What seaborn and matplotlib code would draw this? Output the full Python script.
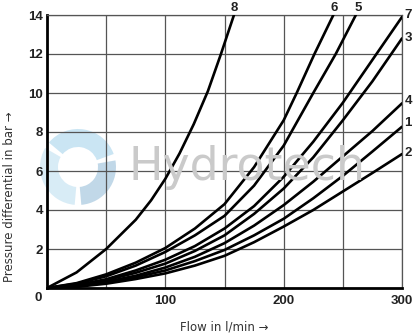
import matplotlib
matplotlib.use("Agg")
import matplotlib.pyplot as plt
from matplotlib.patches import Wedge
import seaborn as sns
import pandas as pd

# ---- data (flow l/min, pressure bar) ----
curve_names = ["1", "2", "3", "4", "5", "6", "7", "8"]

flow_1 = [0, 25, 50, 75, 100, 125, 150, 175, 200, 225, 250, 275, 300]
dp_1 = [0, 0.08, 0.27, 0.55, 0.9, 1.38, 1.95, 2.7, 3.55, 4.6, 5.75, 7.0, 8.27]

flow_2 = [0, 25, 50, 75, 100, 125, 150, 175, 200, 225, 250, 275, 300]
dp_2 = [0, 0.06, 0.22, 0.46, 0.75, 1.15, 1.65, 2.35, 3.15, 4.0, 4.95, 5.9, 6.87]

flow_3 = [0, 25, 50, 75, 100, 125, 150, 175, 200, 225, 250, 275, 300]
dp_3 = [0, 0.13, 0.4, 0.78, 1.25, 1.9, 2.7, 3.8, 5.1, 6.7, 8.6, 10.6, 12.8]

flow_4 = [0, 25, 50, 75, 100, 125, 150, 175, 200, 225, 250, 275, 300]
dp_4 = [0, 0.1, 0.32, 0.63, 1.05, 1.6, 2.3, 3.2, 4.25, 5.45, 6.75, 8.05, 9.47]

flow_5 = [0, 25, 50, 75, 100, 125, 150, 175, 200, 225, 244, 261]
dp_5 = [0, 0.22, 0.6, 1.15, 1.85, 2.7, 3.7, 5.25, 7.3, 10.0, 12.0, 14.0]

flow_6 = [0, 25, 50, 75, 100, 125, 150, 175, 200, 211, 226, 242]
dp_6 = [0, 0.25, 0.7, 1.3, 2.05, 3.05, 4.3, 6.2, 8.6, 10.0, 12.0, 14.0]

flow_7 = [0, 25, 50, 75, 100, 125, 150, 175, 200, 225, 250, 275, 300]
dp_7 = [0, 0.15, 0.45, 0.9, 1.45, 2.15, 3.05, 4.2, 5.7, 7.5, 9.5, 11.7, 13.9]

flow_8 = [0, 25, 50, 75, 88, 100, 112, 124, 136, 147, 158]
dp_8 = [0, 0.8, 2.0, 3.5, 4.5, 5.6, 6.9, 8.4, 10.1, 12.0, 14.0]

x_ticks = [100, 200, 300]
y_ticks = [2, 4, 6, 8, 10, 12, 14]

label_pos = {  # curve label anchor (flow, pressure)
    "8": (158, 14.38), "6": (243, 14.38), "5": (263, 14.38),
    "7": (302, 14.0), "3": (302, 12.8), "4": (302, 9.6),
    "1": (302, 8.45), "2": (302, 6.9),
}

flows = [flow_1, flow_2, flow_3, flow_4, flow_5, flow_6, flow_7, flow_8]
dps = [dp_1, dp_2, dp_3, dp_4, dp_5, dp_6, dp_7, dp_8]
rows = []
for name, fx, fy in zip(curve_names, flows, dps):
    for a, b in zip(fx, fy):
        rows.append({"curve": name, "flow": a, "dp": b})
df = pd.DataFrame(rows)

sns.set_theme(style="white")
plt.rcParams["font.family"] = ["Liberation Sans", "DejaVu Sans"]

W, H = 415, 335
fig = plt.figure(figsize=(W / 100, H / 100), dpi=100)
ax = fig.add_axes([47 / W, 1 - 288 / H, (402 - 47) / W, (288 - 15) / H])

# watermark
ax_logo = fig.add_axes([38 / W, 1 - 207 / H, 80 / W, 80 / H])
ax_logo.set_xlim(-1, 1)
ax_logo.set_ylim(-1, 1)
ax_logo.set_aspect("equal")
ax_logo.axis("off")
for th1, th2, col in [(20, 140, "#9fd0ea"), (150, 265, "#b9ddf0"), (275, 370, "#8fb9d6")]:
    ax_logo.add_patch(Wedge((0, 0), 0.95, th1, th2, width=0.45, color=col, alpha=0.55, lw=0))
ax_logo.set_zorder(0)
fig.text(128 / W, 1 - 180 / H, "Hydrotech", fontsize=33, color="#cacaca",
         ha="left", va="baseline", family=["DejaVu Sans"])

ax.set_zorder(1)
ax.patch.set_alpha(0)

sns.lineplot(data=df, x="flow", y="dp", hue="curve", units="curve",
             estimator=None, sort=False,
             palette={n: "black" for n in curve_names},
             linewidth=1.9, legend=False, ax=ax, zorder=3)

ax.set_xlim(0, 300)
ax.set_ylim(0, 14)
ax.set_xticks(x_ticks)
ax.set_xticks([50, 150, 250], minor=True)
ax.set_yticks(y_ticks)
ax.grid(True, which="both", color="#555555", linewidth=0.9)
ax.tick_params(axis="both", which="both", length=0)
ax.tick_params(axis="x", pad=5)
ax.tick_params(axis="y", pad=3)
for lab in ax.get_xticklabels() + ax.get_yticklabels():
    lab.set_fontsize(9.5)
    lab.set_fontweight("bold")
    lab.set_color("#222222")
ax.set_xlabel("")
ax.set_ylabel("")

for s in ["top", "right"]:
    ax.spines[s].set_color("#555555")
    ax.spines[s].set_linewidth(0.9)
for s in ["left", "bottom"]:
    ax.spines[s].set_color("black")
    ax.spines[s].set_linewidth(2.0)

for name, (lx, ly) in label_pos.items():
    if ly > 14.2:
        ax.text(lx, ly, name, ha="center", va="center", fontsize=9.5,
                fontweight="bold", color="#222222", clip_on=False)
    else:
        ax.text(lx, ly, name, ha="left", va="center", fontsize=9.5,
                fontweight="bold", color="#222222", clip_on=False)

fig.text(38 / W, 1 - 298 / H, "0", ha="center", va="center", fontsize=9.5,
         fontweight="bold", color="#222222")

fig.text(224 / W, 1 - 327 / H, "Flow in l/min \u2192", ha="center", va="center",
         fontsize=8.5, color="#333333",
         family=["Liberation Sans Narrow", "DejaVu Sans"])
fig.text(10 / W, 1 - 197 / H, "Pressure differential in bar \u2192", ha="center",
         va="center", rotation=90, fontsize=8.5, color="#333333",
         family=["Liberation Sans Narrow", "DejaVu Sans"])

fig.savefig("out.png", dpi=100)
